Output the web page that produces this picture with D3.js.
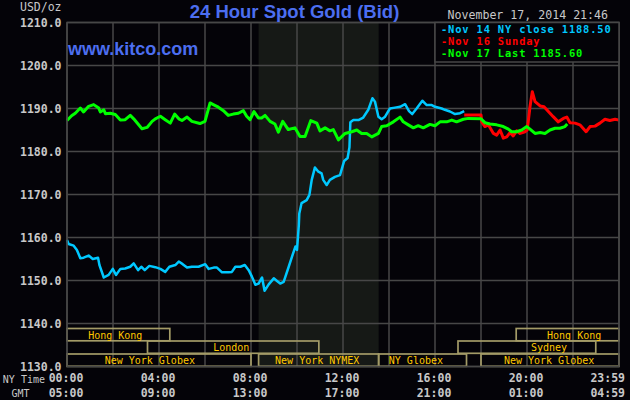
<!DOCTYPE html>
<html>
<head>
<meta charset="utf-8">
<script src="https://cdn.jsdelivr.net/npm/d3@7"></script>
<style>
  body { margin: 0; background: #040308; }
  svg { display: block; }
</style>
</head>
<body>
<svg class="gold-chart" width="630" height="400"></svg>
<script>
// values: [hour NY time, price]
const nov14 = [[0,1159.4],[0.07,1158.5],[0.29,1158.1],[0.43,1157.1],[0.58,1155.2],[0.72,1155.3],[0.94,1155.8],[1.12,1155.0],[1.35,1155.3],[1.41,1153.6],[1.6,1150.7],[1.81,1151.3],[1.99,1152.7],[2.13,1151.3],[2.32,1152.7],[2.53,1152.8],[2.75,1153.2],[2.9,1154.0],[3.09,1152.4],[3.23,1153.2],[3.38,1152.4],[3.58,1153.4],[3.84,1153.1],[4.06,1152.7],[4.27,1152.0],[4.45,1153.2],[4.71,1153.6],[4.86,1154.4],[5.03,1153.8],[5.22,1153.0],[5.43,1153.2],[5.72,1153.2],[6.01,1153.8],[6.16,1152.7],[6.38,1153.0],[6.52,1153.0],[6.74,1151.9],[7.03,1151.9],[7.17,1152.0],[7.32,1153.2],[7.54,1153.2],[7.73,1153.6],[7.9,1152.4],[8.04,1150.9],[8.19,1149.0],[8.33,1149.3],[8.48,1150.7],[8.59,1147.6],[8.77,1149.1],[8.99,1150.5],[9.13,1149.9],[9.27,1149.3],[9.42,1149.7],[9.64,1153.2],[9.78,1155.5],[9.93,1157.9],[10.0,1157.1],[10.08,1162.9],[10.1,1165.6],[10.2,1168.0],[10.42,1168.7],[10.54,1169.9],[10.64,1173.4],[10.78,1176.3],[10.93,1175.3],[11.07,1174.9],[11.14,1173.4],[11.29,1172.2],[11.43,1173.4],[11.65,1174.1],[11.87,1174.5],[12.05,1177.8],[12.2,1178.5],[12.28,1181.0],[12.32,1186.8],[12.45,1187.3],[12.67,1187.3],[12.88,1187.9],[13.1,1189.7],[13.28,1192.4],[13.39,1191.6],[13.54,1188.1],[13.68,1187.5],[13.83,1188.1],[14.04,1190.0],[14.26,1190.2],[14.48,1190.4],[14.7,1191.0],[14.87,1189.4],[15.01,1188.7],[15.2,1190.0],[15.45,1191.8],[15.64,1190.8],[15.86,1190.8],[16.0,1190.4],[16.29,1190.0],[16.43,1189.7],[16.65,1189.3],[16.87,1188.7],[17.09,1188.9],[17.27,1189.4]];

const nov16 = [[17.27,1188.5],[18.0,1188.5],[18.03,1186.9],[18.17,1185.8],[18.32,1186.2],[18.54,1184.2],[18.68,1183.8],[18.83,1185.0],[18.97,1183.1],[19.12,1183.4],[19.26,1184.4],[19.4,1183.6],[19.55,1184.8],[19.7,1184.2],[19.91,1184.6],[20.01,1185.0],[20.13,1190.4],[20.23,1193.9],[20.35,1191.6],[20.57,1190.6],[20.74,1190.4],[20.93,1189.3],[21.14,1188.1],[21.36,1186.9],[21.58,1187.7],[21.73,1188.0],[21.87,1186.7],[22.09,1186.6],[22.3,1186.2],[22.57,1184.6],[22.74,1185.8],[22.96,1185.9],[23.17,1186.6],[23.39,1187.5],[23.6,1187.2],[23.83,1187.5],[24,1187.3]];

const nov17 = [[0,1187.2],[0.2,1188.3],[0.36,1188.9],[0.58,1190.1],[0.72,1189.2],[0.94,1190.5],[1.16,1190.9],[1.38,1190.1],[1.45,1189.2],[1.6,1189.7],[1.67,1188.8],[1.88,1188.9],[2.1,1188.6],[2.32,1187.3],[2.53,1187.4],[2.75,1188.4],[2.9,1187.6],[3.26,1185.3],[3.48,1185.6],[3.7,1187.0],[3.84,1187.6],[4.06,1188.2],[4.27,1187.4],[4.49,1186.6],[4.68,1188.7],[4.86,1187.6],[5.0,1187.2],[5.22,1188.0],[5.43,1187.0],[5.78,1186.5],[6.0,1187.0],[6.22,1191.3],[6.36,1190.9],[6.58,1190.3],[6.8,1189.5],[7.01,1188.4],[7.23,1188.7],[7.45,1188.9],[7.67,1189.5],[7.81,1188.2],[7.96,1187.4],[8.13,1189.3],[8.32,1187.8],[8.46,1187.8],[8.61,1188.4],[8.83,1187.0],[9.04,1186.4],[9.19,1184.5],[9.38,1187.0],[9.62,1185.1],[9.91,1185.5],[10.13,1183.5],[10.35,1183.5],[10.6,1187.2],[10.86,1186.6],[11.0,1184.8],[11.22,1185.5],[11.43,1184.8],[11.58,1185.1],[11.8,1182.7],[12.09,1184.2],[12.38,1184.6],[12.6,1185.0],[12.81,1184.2],[13.03,1184.2],[13.25,1183.4],[13.54,1184.2],[13.68,1185.8],[13.9,1186.0],[14.19,1186.9],[14.48,1188.0],[14.62,1186.9],[14.84,1186.2],[15.06,1185.5],[15.27,1186.0],[15.49,1185.5],[15.78,1186.3],[16.0,1186.0],[16.22,1186.9],[16.51,1186.9],[16.73,1187.3],[16.94,1186.9],[17.23,1187.5],[17.45,1187.7],[18.0,1187.6],[18.17,1186.7],[18.39,1186.4],[18.68,1186.2],[18.97,1185.8],[19.19,1185.2],[19.33,1184.6],[19.55,1184.6],[19.77,1185.0],[19.99,1185.8],[20.13,1185.2],[20.35,1184.2],[20.57,1184.4],[20.78,1184.2],[21.0,1185.0],[21.22,1185.4],[21.43,1185.4],[21.65,1185.8],[21.75,1186.4]];

const legendLabels = ['-Nov 14 NY close 1188.50', '-Nov 16 Sunday', '-Nov 17 Last 1185.60'];
const seriesColors = ['#00c8ff', '#ff0000', '#00ff00'];

const priceTicks = [1130, 1140, 1150, 1160, 1170, 1180, 1190, 1200, 1210];
const hourTicks = [0, 4, 8, 12, 16, 20, 24];
const nyTimeLabels = ['00:00', '04:00', '08:00', '12:00', '16:00', '20:00', '23:59'];
const gmtLabels = ['05:00', '09:00', '13:00', '17:00', '21:00', '01:00', '04:59'];

// trading sessions: row, start hour, end hour, label, label centre hour
const sessionRows = [0, 0, 1, 1, 2, 2, 2, 2];
const sessionStart = [0, 19.53, 3.5, 17.0, 0, 8.33, 13.55, 18.0];
const sessionEnd = [4.47, 24, 10.95, 22.99, 8.0, 13.55, 17.37, 24];
const sessionLabels = ['Hong Kong', 'Hong Kong', 'London', 'Sydney', 'New York Globex', 'New York NYMEX', 'NY Globex', 'New York Globex'];
const sessionLabelAt = [2.1, 22.05, 7.14, 20.96, 3.6, 10.88, 15.17, 20.96];

// NYMEX floor hours shaded
const shadeHours = [8.33, 13.55];

const svg = d3.select('.gold-chart'),
  width = +svg.attr('width'),
  plotLeft = 67, plotRight = 619, plotTop = 22.5, plotBottom = 366.5;

const x = d3.scaleLinear().domain([0, 24]).range([plotLeft, plotRight]);
const y = d3.scaleLinear().domain([1130, 1210]).range([plotBottom, plotTop]);

const gridColor = '#474747';
const mono = '"DejaVu Sans Mono", monospace';

svg.append('rect').attr('width', width).attr('height', 400).attr('fill', '#040308');

// shaded NYMEX hours
svg.append('rect')
  .attr('x', x(shadeHours[0]))
  .attr('y', plotTop)
  .attr('width', x(shadeHours[1]) - x(shadeHours[0]))
  .attr('height', plotBottom - plotTop)
  .attr('fill', '#161916');

// grid
svg.append('g').selectAll('line')
  .data(d3.range(0, 25, 2))
  .join('line')
  .attr('x1', d => x(d)).attr('x2', d => x(d))
  .attr('y1', plotTop).attr('y2', plotBottom)
  .attr('stroke', gridColor).attr('stroke-width', 1.5);

svg.append('g').selectAll('line')
  .data(priceTicks)
  .join('line')
  .attr('x1', plotLeft).attr('x2', plotRight)
  .attr('y1', d => y(d)).attr('y2', d => y(d))
  .attr('stroke', gridColor).attr('stroke-width', 1.5);

// price labels
svg.append('g').selectAll('text')
  .data(priceTicks)
  .join('text')
  .attr('x', 61.5)
  .attr('y', d => y(d) + 4)
  .attr('text-anchor', 'end')
  .attr('fill', '#c8c8c8')
  .style('font', 'bold 11.5px ' + mono)
  .text(d => d.toFixed(1));

svg.append('text')
  .attr('x', 61.5).attr('y', 11)
  .attr('text-anchor', 'end')
  .attr('fill', '#c8c8c8')
  .style('font', '11.5px ' + mono)
  .text('USD/oz');

// price lines
const line = d3.line().x(d => x(d[0])).y(d => y(d[1]));
[nov14, nov16, nov17].forEach((series, i) => {
  svg.append('path')
    .datum(series)
    .attr('fill', 'none')
    .attr('stroke', seriesColors[i])
    .attr('stroke-width', i === 0 ? 2.5 : 3)
    .attr('stroke-linejoin', 'round')
    .attr('d', line);
});

// session boxes
const rowTop = [328.5, 341, 354];
const rowH = 12.3;
const sess = svg.append('g');
sessionLabels.forEach((label, i) => {
  const r = sessionRows[i];
  sess.append('rect')
    .attr('x', x(sessionStart[i]))
    .attr('y', rowTop[r])
    .attr('width', x(sessionEnd[i]) - x(sessionStart[i]))
    .attr('height', rowH)
    .attr('fill', 'none')
    .attr('stroke', '#a39b67')
    .attr('stroke-width', 1.7);
  sess.append('text')
    .attr('x', x(sessionLabelAt[i]))
    .attr('y', rowTop[r] + 10)
    .attr('text-anchor', 'middle')
    .attr('fill', '#ffc800')
    .style('font', '10px ' + mono)
    .text(label);
});

// plot border
svg.append('rect')
  .attr('x', plotLeft).attr('y', plotTop)
  .attr('width', plotRight - plotLeft).attr('height', plotBottom - plotTop)
  .attr('fill', 'none')
  .attr('stroke', gridColor).attr('stroke-width', 1.5);

// time labels under the chart
const timeRows = [[nyTimeLabels, 382], [gmtLabels, 397]];
timeRows.forEach(([labels, ty]) => {
  svg.append('g').selectAll('text')
    .data(hourTicks)
    .join('text')
    .attr('x', (d, i) => i === hourTicks.length - 1 ? width - 5 : x(d) - 1)
    .attr('y', ty)
    .attr('text-anchor', (d, i) => i === hourTicks.length - 1 ? 'end' : 'middle')
    .attr('fill', '#c8c8c8')
    .style('font', 'bold 11.5px ' + mono)
    .text((d, i) => labels[i]);
});

svg.append('text').attr('x', 45).attr('y', 383).attr('text-anchor', 'end')
  .attr('fill', '#c8c8c8').style('font', '10px ' + mono).text('NY Time');
svg.append('text').attr('x', 29.5).attr('y', 397).attr('text-anchor', 'end')
  .attr('fill', '#c8c8c8').style('font', '10px ' + mono).text('GMT');

// legend box
svg.append('rect')
  .attr('x', x(16)).attr('y', plotTop)
  .attr('width', plotRight - x(16)).attr('height', 62 - plotTop)
  .attr('fill', '#040308')
  .attr('stroke', gridColor).attr('stroke-width', 1.5);

svg.append('g').selectAll('text')
  .data(legendLabels)
  .join('text')
  .attr('x', 441)
  .attr('y', (d, i) => 32.5 + i * 12.2)
  .attr('fill', (d, i) => seriesColors[i])
  .style('font', 'bold 10.4px ' + mono)
  .style('letter-spacing', '0.85px')
  .text(d => d);

// titles
svg.append('text')
  .attr('x', 294.5).attr('y', 17.5)
  .attr('text-anchor', 'middle')
  .attr('fill', '#4c6ef0')
  .style('font', 'bold 18.5px "Liberation Sans", Arial, sans-serif')
  .text('24 Hour Spot Gold (Bid)');

svg.append('text')
  .attr('x', 68).attr('y', 55)
  .attr('fill', '#4c6ef0')
  .style('font', 'bold 18px "Liberation Sans", Arial, sans-serif')
  .text('www.kitco.com');

svg.append('text')
  .attr('x', 447.5).attr('y', 18.5)
  .attr('fill', '#c8c8c8')
  .style('font', '11.6px ' + mono)
  .text('November 17, 2014 21:46');
</script>
</body>
</html>
